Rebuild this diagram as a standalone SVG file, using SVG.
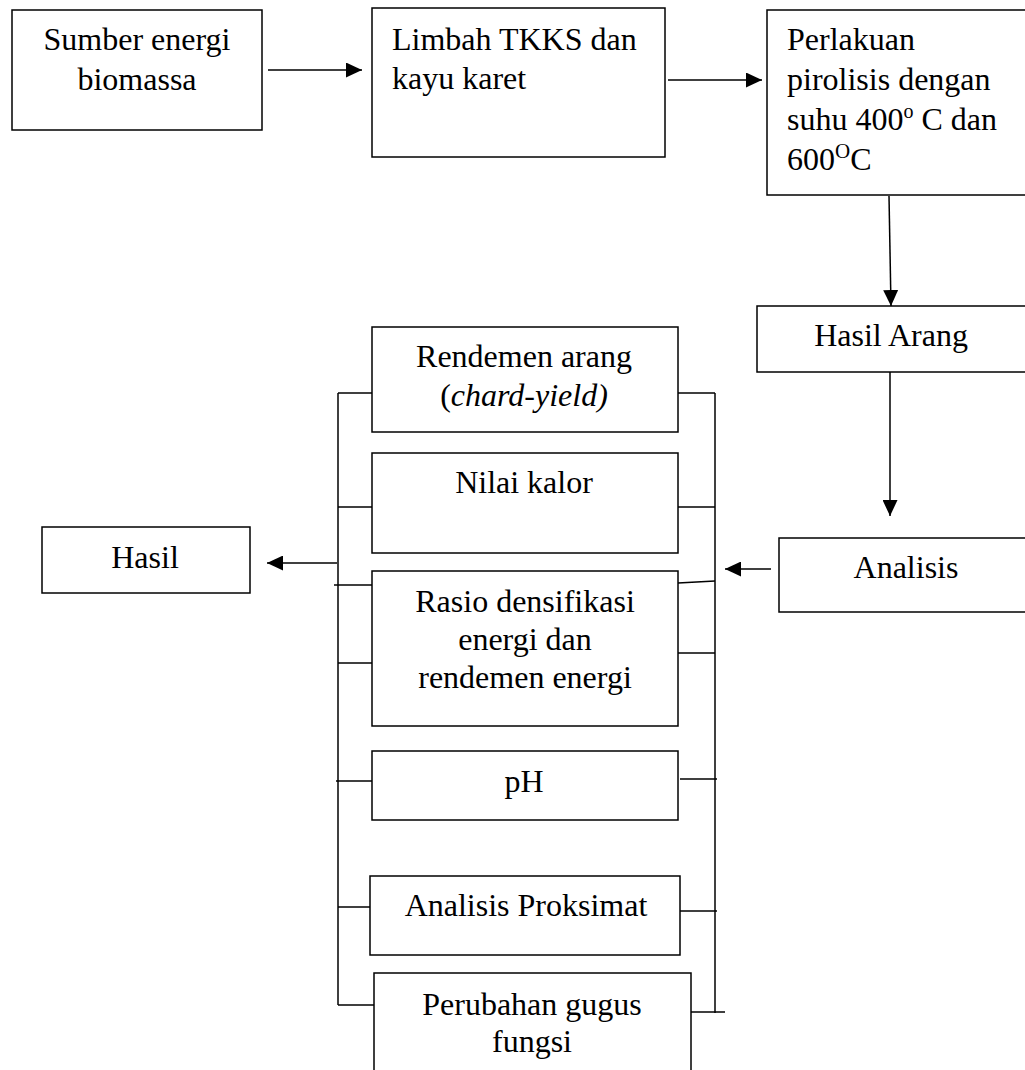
<svg xmlns="http://www.w3.org/2000/svg" width="1025" height="1070" viewBox="0 0 1025 1070">
<defs>
<marker id="ah" markerWidth="10" markerHeight="10" refX="9" refY="5" orient="auto" markerUnits="userSpaceOnUse" viewBox="0 0 10 10">
<path d="M0,0 L10,5 L0,10 Z" fill="#000"/>
</marker>
<marker id="ahb" markerWidth="16" markerHeight="15" refX="16" refY="7.5" orient="auto" markerUnits="userSpaceOnUse" viewBox="0 0 16 15">
<path d="M0,0 L16,7.5 L0,15 Z" fill="#000"/>
</marker>
<style>
.box{fill:#fff;stroke:#000;stroke-width:1.5}
.t{font-family:"Liberation Serif","Times New Roman",serif;font-size:32px;fill:#000}
.c{text-anchor:middle}
.ln{stroke:#000;stroke-width:1.5;fill:none}
.arr{stroke:#000;stroke-width:1.5;fill:none;marker-end:url(#ahb)}
</style>
</defs>
<rect width="1025" height="1070" fill="#fff"/>

<g id="connectors">
<line class="arr" x1="268" y1="70" x2="362" y2="70"/>
<line class="arr" x1="668" y1="80" x2="762" y2="80"/>
<line class="arr" x1="889" y1="196" x2="891" y2="306"/>
<line class="arr" x1="890" y1="372" x2="890" y2="516"/>
<line class="arr" x1="771" y1="569" x2="725" y2="569"/>
<line class="arr" x1="337" y1="563" x2="267" y2="563"/>
<!-- left bus -->
<line class="ln" x1="338" y1="393" x2="338" y2="1005"/>
<line class="ln" x1="338" y1="393" x2="372" y2="393"/>
<line class="ln" x1="338" y1="507" x2="374" y2="507"/>
<line class="ln" x1="334" y1="585" x2="372" y2="585"/>
<line class="ln" x1="338" y1="663" x2="374" y2="663"/>
<line class="ln" x1="336" y1="781" x2="372" y2="781"/>
<line class="ln" x1="338" y1="907" x2="374" y2="907"/>
<line class="ln" x1="338" y1="1005" x2="374" y2="1005"/>
<!-- right bus -->
<line class="ln" x1="715" y1="393" x2="715" y2="1013"/>
<line class="ln" x1="678" y1="393" x2="715" y2="393"/>
<line class="ln" x1="678" y1="507" x2="715" y2="507"/>
<line class="ln" x1="678" y1="583" x2="715" y2="581"/>
<line class="ln" x1="678" y1="653" x2="715" y2="653"/>
<line class="ln" x1="680" y1="779" x2="717" y2="779"/>
<line class="ln" x1="680" y1="911" x2="717" y2="911"/>
<line class="ln" x1="691" y1="1012" x2="725" y2="1012"/>
</g>

<g id="n-sumber">
<rect class="box" x="12" y="10" width="250" height="120"/>
<text class="t c" x="137" y="50">Sumber energi</text>
<text class="t c" x="137" y="90">biomassa</text>
</g>

<g id="n-limbah">
<rect class="box" x="372" y="8" width="293" height="149"/>
<text class="t" x="392" y="50">Limbah TKKS dan</text>
<text class="t" x="392" y="89">kayu karet</text>
</g>

<g id="n-perlakuan">
<rect class="box" x="767" y="10" width="270" height="185"/>
<text class="t" x="787" y="50">Perlakuan</text>
<text class="t" x="787" y="90">pirolisis dengan</text>
<text class="t" x="787" y="130">suhu 400<tspan font-size="20" dy="-12">o</tspan><tspan dy="12"> C dan</tspan></text>
<text class="t" x="787" y="170">600<tspan font-size="21" dy="-12">O</tspan><tspan dy="12">C</tspan></text>
</g>

<g id="n-hasil-arang">
<rect class="box" x="757" y="306" width="280" height="66"/>
<text class="t c" x="891" y="346">Hasil Arang</text>
</g>

<g id="n-analisis">
<rect class="box" x="779" y="538" width="260" height="74"/>
<text class="t c" x="906" y="578">Analisis</text>
</g>

<g id="n-hasil">
<rect class="box" x="42" y="527" width="208" height="66"/>
<text class="t c" x="145" y="568">Hasil</text>
</g>

<g id="n-rendemen">
<rect class="box" x="372" y="327" width="306" height="105"/>
<text class="t c" x="524" y="367">Rendemen arang</text>
<text class="t c" x="524" y="406">(<tspan font-style="italic">chard-yield)</tspan></text>
</g>

<g id="n-nilai">
<rect class="box" x="372" y="453" width="306" height="100"/>
<text class="t c" x="524" y="493">Nilai kalor</text>
</g>

<g id="n-rasio">
<rect class="box" x="372" y="571" width="306" height="155"/>
<text class="t c" x="525" y="612">Rasio densifikasi</text>
<text class="t c" x="525" y="650">energi dan</text>
<text class="t c" x="525" y="688">rendemen energi</text>
</g>

<g id="n-ph">
<rect class="box" x="372" y="751" width="306" height="69"/>
<text class="t c" x="524" y="792">pH</text>
</g>

<g id="n-proksimat">
<rect class="box" x="370" y="876" width="310" height="79"/>
<text class="t c" x="526" y="916">Analisis Proksimat</text>
</g>

<g id="n-perubahan">
<rect class="box" x="374" y="973" width="317" height="120"/>
<text class="t c" x="532" y="1015">Perubahan gugus</text>
<text class="t c" x="532" y="1052">fungsi</text>
</g>
</svg>
